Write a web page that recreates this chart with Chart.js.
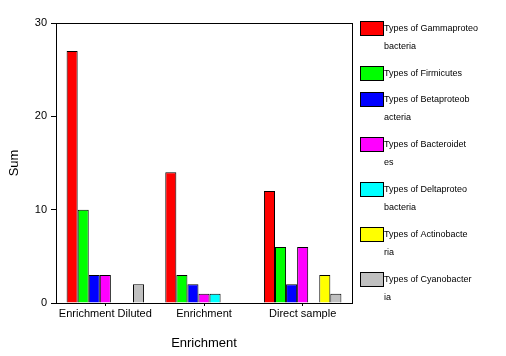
<!DOCTYPE html>
<html>
<head>
<meta charset="utf-8">
<script src="https://cdn.jsdelivr.net/npm/chart.js@4/dist/chart.umd.min.js"></script>
<style>
html,body{margin:0;padding:0;background:#fff;}
canvas{display:block;}
</style>
</head>
<body>
<canvas id="c" width="506" height="356"></canvas>
<script>
const categories = ["Enrichment Diluted", "Enrichment", "Direct sample"];
const seriesNames = [
  "Types of Gammaproteobacteria",
  "Types of Firmicutes",
  "Types of Betaproteobacteria",
  "Types of Bacteroidetes",
  "Types of Deltaproteobacteria",
  "Types of Actinobacteria",
  "Types of Cyanobacteria"
];
const gammaproteobacteria = [27, 14, 12];
const firmicutes = [10, 3, 6];
const betaproteobacteria = [3, 2, 2];
const bacteroidetes = [3, 1, 6];
const deltaproteobacteria = [0, 1, 0];
const actinobacteria = [0, 0, 3];
const cyanobacteria = [2, 0, 1];
const yTicks = [0, 10, 20, 30];

const seriesValues = [gammaproteobacteria, firmicutes, betaproteobacteria, bacteroidetes, deltaproteobacteria, actinobacteria, cyanobacteria];
const colors = ["#FF0000", "#00FF00", "#0000FF", "#FF00FF", "#00FFFF", "#FFFF00", "#C0C0C0"];

const FONT = "Arial, 'Liberation Sans', sans-serif";

const framePlugin = {
  id: 'frame',
  afterDraw(chart) {
    const ctx = chart.ctx;
    const a = chart.chartArea;
    ctx.save();
    ctx.strokeStyle = '#000';
    ctx.lineWidth = 1;
    ctx.strokeRect(Math.round(a.left) + 0.5, Math.round(a.top) + 0.5, Math.round(a.right - a.left), Math.round(a.bottom - a.top));
    ctx.restore();
  }
};

const legendPlugin = {
  id: 'sideLegend',
  afterDraw(chart) {
    const ctx = chart.ctx;
    ctx.save();
    ctx.font = "9px " + FONT;
    ctx.textBaseline = 'middle';
    ctx.textAlign = 'left';
    let top = 22;
    chart.data.datasets.forEach(ds => {
      const label = ds.label;
      const lines = [];
      for (let i = 0; i < label.length; i += 20) lines.push(label.slice(i, i + 20));
      ctx.fillStyle = ds.backgroundColor;
      ctx.fillRect(361, top, 22, 13);
      ctx.strokeStyle = '#000';
      ctx.lineWidth = 1;
      ctx.strokeRect(360.5, top - 0.5, 23, 14);
      ctx.fillStyle = '#000';
      lines.forEach((ln, k) => ctx.fillText(ln, 384, top + 7 + k * 18));
      top += 26 + 19 * (lines.length - 1);
    });
    ctx.restore();
  }
};

new Chart(document.getElementById('c'), {
  type: 'bar',
  data: {
    labels: categories,
    datasets: seriesNames.map((n, i) => ({
      label: n,
      data: seriesValues[i],
      backgroundColor: colors[i],
      borderColor: '#000',
      borderWidth: 1,
      borderSkipped: 'bottom',
      categoryPercentage: 0.785,
      barPercentage: 1.0
    }))
  },
  options: {
    responsive: false,
    animation: false,
    devicePixelRatio: 1,
    layout: { padding: { left: 0, right: 154, top: 23, bottom: 0 } },
    plugins: { legend: { display: false }, tooltip: { enabled: false } },
    scales: {
      x: {
        grid: { offset: false, drawOnChartArea: false, drawTicks: true, tickLength: 3, color: '#000' },
        border: { display: true, color: '#000' },
        ticks: { color: '#000', font: { family: FONT, size: 11 }, padding: 1, maxRotation: 0 },
        title: { display: true, text: 'Enrichment', color: '#000', font: { family: FONT, size: 13 }, padding: { top: 0, bottom: 5 } },
        afterFit(s) { s.height = 53; }
      },
      y: {
        min: 0, max: 30,
        afterBuildTicks(s) { s.ticks = yTicks.map(v => ({ value: v })); },
        grid: { drawOnChartArea: false, drawTicks: true, tickLength: 5, color: '#000' },
        border: { display: true, color: '#000' },
        ticks: { color: '#000', font: { family: FONT, size: 11 }, padding: 4 },
        title: { display: true, text: 'Sum', color: '#000', font: { family: FONT, size: 13 }, padding: { top: 7, bottom: 0 } },
        afterFit(s) { s.width = 56; }
      }
    }
  },
  plugins: [framePlugin, legendPlugin]
});
</script>
</body>
</html>
